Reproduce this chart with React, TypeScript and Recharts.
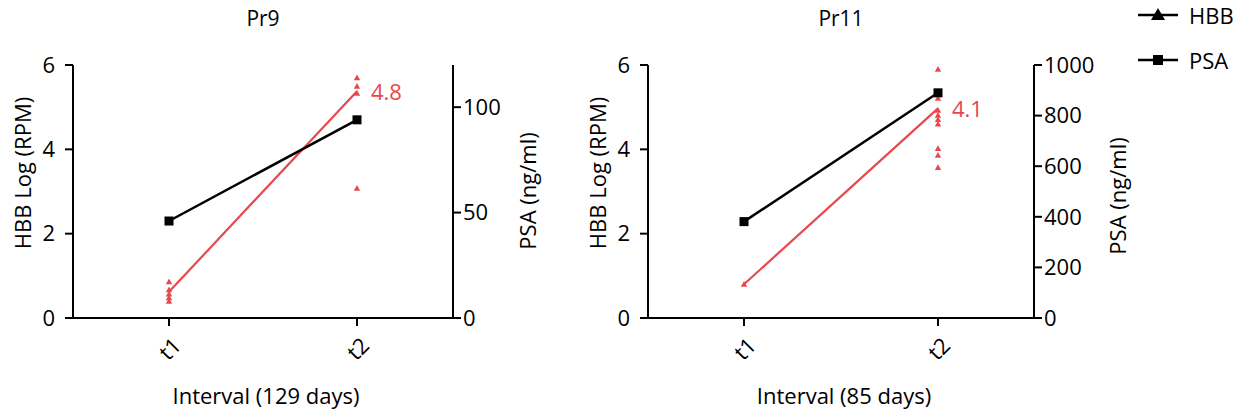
import React from 'react';
import { ComposedChart, Line, XAxis, YAxis, Customized, LabelList } from 'recharts';

const categories = ['t1', 't2'];

// Pr9
const pr9HbbMean = [0.62, 5.38];
const pr9Psa = [46, 94];
const pr9RepsT1 = [0.86, 0.67, 0.57, 0.48, 0.4];
const pr9RepsT2 = [5.7, 5.5, 5.33, 3.08];
const pr9Change = '4.8';

// Pr11
const pr11HbbMean = [0.8, 4.97];
const pr11Psa = [381, 890];
const pr11RepsT1 = [0.8];
const pr11RepsT2 = [5.9, 5.21, 4.93, 4.81, 4.71, 4.6, 4.02, 3.86, 3.57];
const pr11Change = '4.1';

const leftTicks = [0, 2, 4, 6];
const pr9RightTicks = [0, 50, 100];
const pr11RightTicks = [0, 200, 400, 600, 800, 1000];

const legendItems = [
  { name: 'HBB', shape: 'triangle' },
  { name: 'PSA', shape: 'square' },
];

const RED = '#E8474B';
const FONT = '"Open Sans", "Noto Sans", sans-serif';
const FS = 22;
const MAX_REPS = 9;

function buildRows(mean: number[], psa: number[], repsT1: number[], repsT2: number[], change: string) {
  const reps = [repsT1, repsT2];
  return categories.map((c, i) => {
    const row: any = { cat: c, mean: mean[i], psa: psa[i], change: i === 1 ? change : null };
    for (let k = 0; k < MAX_REPS; k++) row['r' + k] = reps[i][k] ?? null;
    return row;
  });
}

const TriDot = (props: any) => {
  const { cx, cy, value } = props;
  if (value == null || cx == null || cy == null) return <g />;
  const s = 3.2;
  return <path d={`M${cx},${cy - s}L${cx + s},${cy + s * 0.8}L${cx - s},${cy + s * 0.8}Z`} fill={RED} />;
};

const SquareDot = (props: any) => {
  const { cx, cy } = props;
  if (cx == null || cy == null) return <g />;
  return <rect x={cx - 4.5} y={cy - 4.5} width={9} height={9} fill="#000" />;
};

const XTick = (props: any) => {
  const { x, y, payload } = props;
  return (
    <g transform={`translate(${x},${y + 20})`}>
      <text transform="rotate(-45)" textAnchor="middle" dominantBaseline="central" fontSize={FS} fontFamily={FONT} fill="#000">
        {payload.value}
      </text>
    </g>
  );
};

type PanelProps = {
  title: string;
  xLabel: string;
  rows: any[];
  rightDomain: [number, number];
  rightTicks: number[];
  width: number;
  leftMargin: number;
  rightMargin: number;
  rightLabelOffset: number;
  rightLabelY: number;
  legend?: boolean;
};

const TOP = 65;
const BOTTOM = 318;
const HEIGHT = 415;
const YAXIS_W = 60;
const RYAXIS_W = 80;

const Panel = (p: PanelProps) => {
  const plotLeft = p.leftMargin + YAXIS_W;
  const plotRight = p.width - p.rightMargin - RYAXIS_W;
  const cx = (plotLeft + plotRight) / 2;
  return (
    <ComposedChart
      width={p.width}
      height={HEIGHT}
      data={p.rows}
      margin={{ top: TOP, bottom: HEIGHT - BOTTOM - 60, left: p.leftMargin, right: p.rightMargin }}
    >
      <XAxis
        dataKey="cat"
        padding={{ left: 96, right: 96 }}
        height={60}
        axisLine={{ stroke: '#000', strokeWidth: 2 }}
        tickLine={{ stroke: '#000', strokeWidth: 2 }}
        tickSize={8}
        tick={<XTick />}
      />
      <YAxis
        yAxisId="left"
        domain={[0, 6]}
        ticks={leftTicks}
        width={YAXIS_W}
        axisLine={{ stroke: '#000', strokeWidth: 2 }}
        tickLine={{ stroke: '#000', strokeWidth: 2 }}
        tickSize={8}
        tickMargin={10}
        tick={{ fill: '#000', fontSize: FS, fontFamily: FONT }}
      />
      <YAxis
        yAxisId="right"
        orientation="right"
        domain={p.rightDomain}
        ticks={p.rightTicks}
        width={RYAXIS_W}
        axisLine={{ stroke: '#000', strokeWidth: 2 }}
        tickLine={{ stroke: '#000', strokeWidth: 2 }}
        tickSize={8}
        tickMargin={2}
        tick={{ fill: '#000', fontSize: FS, fontFamily: FONT }}
      />
      {Array.from({ length: MAX_REPS }, (_, k) => (
        <Line
          key={k}
          yAxisId="left"
          dataKey={'r' + k}
          stroke="none"
          dot={<TriDot />}
          activeDot={false}
          legendType="none"
          isAnimationActive={false}
        />
      ))}
      <Line
        yAxisId="left"
        dataKey="mean"
        stroke={RED}
        strokeWidth={2.2}
        dot={false}
        activeDot={false}
        isAnimationActive={false}
      >
        <LabelList
          dataKey="change"
          content={(lp: any) =>
            lp.value ? (
              <text x={lp.x + 14} y={lp.y} dominantBaseline="central" fill={RED} fontSize={FS} fontFamily={FONT}>
                {lp.value}
              </text>
            ) : null
          }
        />
      </Line>
      <Line
        yAxisId="right"
        dataKey="psa"
        stroke="#000"
        strokeWidth={2.5}
        dot={<SquareDot />}
        activeDot={false}
        isAnimationActive={false}
      />
      <Customized
        component={() => (
          <g fontFamily={FONT} fill="#000">
            <text x={cx} y={18} textAnchor="middle" dominantBaseline="central" fontSize={21}>
              {p.title}
            </text>
            <text x={cx + 3} y={395} textAnchor="middle" dominantBaseline="central" fontSize={FS}>
              {p.xLabel}
            </text>
            <text
              transform={`translate(${plotLeft - 51},${173}) rotate(-90)`}
              textAnchor="middle"
              dominantBaseline="central"
              fontSize={FS}
            >
              HBB Log (RPM)
            </text>
            <text
              transform={`translate(${plotRight + p.rightLabelOffset},${p.rightLabelY}) rotate(-90)`}
              textAnchor="middle"
              dominantBaseline="central"
              fontSize={FS}
            >
              PSA (ng/ml)
            </text>
            {p.legend &&
              legendItems.map((it, i) => {
                const ly = 15 + i * 45;
                const lx = 1138 - 580;
                return (
                  <g key={it.name}>
                    <line x1={lx} x2={lx + 40} y1={ly} y2={ly} stroke="#000" strokeWidth={2.5} />
                    {it.shape === 'triangle' ? (
                      <path d={`M${lx + 20},${ly - 7}L${lx + 27},${ly + 5}L${lx + 13},${ly + 5}Z`} fill="#000" />
                    ) : (
                      <rect x={lx + 15} y={ly - 5} width={10} height={10} fill="#000" />
                    )}
                    <text x={lx + 51} y={ly} dominantBaseline="central" fontSize={FS}>
                      {it.name}
                    </text>
                  </g>
                );
              })}
          </g>
        )}
      />
    </ComposedChart>
  );
};

export default function App() {
  const rows9 = buildRows(pr9HbbMean, pr9Psa, pr9RepsT1, pr9RepsT2, pr9Change);
  const rows11 = buildRows(pr11HbbMean, pr11Psa, pr11RepsT1, pr11RepsT2, pr11Change);
  return (
    <div style={{ position: 'absolute', left: 0, top: 0, width: 1241, height: 415, background: '#fff' }}>
      <div style={{ position: 'absolute', left: 0, top: 0 }}>
        <Panel
          title="Pr9"
          xLabel="Interval (129 days)"
          rows={rows9}
          rightDomain={[0, 120]}
          rightTicks={pr9RightTicks}
          width={600}
          leftMargin={13}
          rightMargin={67}
          rightLabelOffset={74}
          rightLabelY={191}
        />
      </div>
      <div style={{ position: 'absolute', left: 580, top: 0 }}>
        <Panel
          title="Pr11"
          xLabel="Interval (85 days)"
          rows={rows11}
          rightDomain={[0, 1000]}
          rightTicks={pr11RightTicks}
          width={661}
          leftMargin={8}
          rightMargin={127}
          rightLabelOffset={83}
          rightLabelY={196}
          legend
        />
      </div>
    </div>
  );
}
